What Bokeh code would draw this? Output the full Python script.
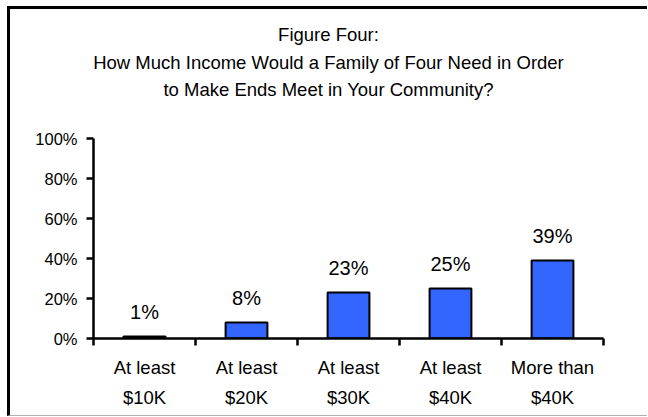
from bokeh.plotting import figure
from bokeh.models import Range1d, FixedTicker, PrintfTickFormatter, ColumnDataSource, Div
from bokeh.layouts import column
from bokeh.core.properties import value
from bokeh.embed import file_html
from bokeh.resources import INLINE

categories = ["At least\n$10K", "At least\n$20K", "At least\n$30K", "At least\n$40K", "More than\n$40K"]
percents = [1, 8, 23, 25, 39]
y_ticks = [0, 20, 40, 60, 80, 100]
title_lines = ["Figure Four:",
               "How Much Income Would a Family of Four Need in Order",
               "to Make Ends Meet in Your Community?"]

FONT = "Liberation Sans"
W = 637
TITLE_H = 109
ML, MT, MR, MB = 83, 20, 44, 77
H = 406 - TITLE_H

xs = [i + 0.5 for i in range(len(categories))]
src = ColumnDataSource(dict(x=xs, top=percents, label=[f"{v}%" for v in percents]))

p = figure(width=W, height=H, output_backend="svg", toolbar_location=None,
           x_range=Range1d(0, len(categories)), y_range=Range1d(0, 100),
           min_border_left=ML, min_border_right=MR, min_border_top=MT, min_border_bottom=MB)
p.outline_line_color = None
p.xgrid.visible = False
p.ygrid.visible = False
p.background_fill_color = "white"
p.border_fill_color = "white"

p.vbar(x="x", top="top", bottom=0, width=0.41, source=src,
       fill_color="#3366ff", line_color="black", line_width=2)
p.text(x="x", y="top", text="label", source=src, y_offset=-25,
       text_align="center", text_baseline="alphabetic",
       text_font=value(FONT), text_font_size="20px", text_color="black")

xa = p.xaxis[0]
xa.ticker = FixedTicker(ticks=xs, minor_ticks=list(range(len(categories) + 1)))
xa.major_label_overrides = {x: c for x, c in zip(xs, categories)}
xa.major_tick_out = 0
xa.major_tick_in = 0
xa.minor_tick_out = 7
xa.minor_tick_in = 0
xa.minor_tick_line_width = 2.5
xa.axis_line_width = 2.5
xa.major_label_standoff = 11
xa.major_label_text_font = FONT
xa.major_label_text_font_size = "18.5px"
xa.major_label_text_line_height = 1.45
xa.major_label_text_color = "black"

ya = p.yaxis[0]
ya.ticker = FixedTicker(ticks=y_ticks, minor_ticks=[])
ya.formatter = PrintfTickFormatter(format="%d%%")
ya.major_tick_out = 7
ya.major_tick_in = 0
ya.major_tick_line_width = 2.5
ya.minor_tick_line_color = None
ya.axis_line_width = 2.5
ya.major_label_standoff = 9
ya.major_label_text_font = FONT
ya.major_label_text_font_size = "16.5px"
ya.major_label_text_color = "black"

title_html = "<br>".join(title_lines)
title = Div(
    text=(f'<div style="width:{W}px; padding-top:12px; text-align:center; '
          f'font-family:\'{FONT}\', Arial, sans-serif; font-size:18.5px; '
          f'line-height:27.5px; color:black; white-space:nowrap;">{title_html}</div>'),
    width=W, height=TITLE_H, margin=0)

layout = column(title, p, spacing=0)
layout.styles = {"margin-left": "7px", "margin-top": "6px",
                 "border-left": "3px solid black", "border-top": "3px solid black",
                 "border-bottom": "1px solid #b0b0b0", "background": "white"}

open("out.html", "w").write(file_html(layout, INLINE))
